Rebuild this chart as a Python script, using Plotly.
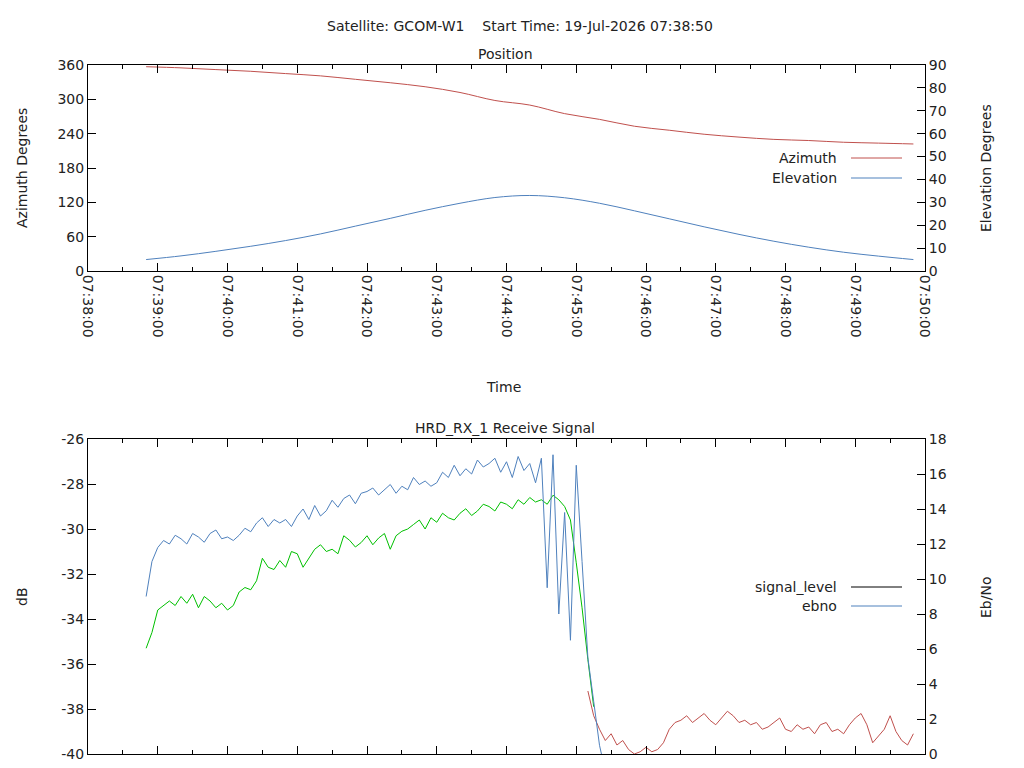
import pandas as pd
import plotly.graph_objects as go

# position pass, every 30 s from 07:38:50
pos_start = "2026-07-19 07:38:50"
azimuth = [357, 355, 352, 349, 345, 341, 335, 329, 322, 312, 298, 290, 275, 265, 253,
           246, 239, 234, 230, 228, 225, 223.5, 222]
elevation = [5.0, 6.6, 8.6, 10.8, 13.3, 16.2, 19.6, 23.0, 26.5, 29.6, 32.1, 33.0, 32.0, 29.6,
             26.3, 22.8, 19.3, 16.0, 13.0, 10.4, 8.2, 6.5, 5.0]

# receive signal, every 5 s
sig_start = "2026-07-19 07:38:50"
signal_locked = [-35.3, -34.6, -33.6, -33.4, -33.2, -33.4, -33.0, -33.3, -32.9, -33.5, -33.0, -33.2,
                 -33.5, -33.3, -33.6, -33.4, -32.8, -32.6, -32.7, -32.3, -31.3, -31.7, -31.8, -31.4,
                 -31.7, -31.0, -31.1, -31.7, -31.3, -30.9, -30.7, -31.0, -30.9, -31.1, -30.3, -30.5,
                 -30.8, -30.6, -30.3, -30.7, -30.4, -30.2, -30.9, -30.3, -30.1, -30.0, -29.8, -29.6,
                 -30.0, -29.5, -29.7, -29.3, -29.5, -29.6, -29.3, -29.1, -29.4, -29.2, -28.9, -29.0,
                 -29.2, -28.8, -28.9, -29.1, -28.7, -28.9, -28.6, -28.8, -28.7, -28.9, -28.5, -28.7,
                 -29.0, -29.6, -31.5, -33.5, -35.8, -37.9]
unlock_start = "2026-07-19 07:45:10"
signal_unlocked = [-37.2, -38.3, -38.9, -39.4, -39.1, -39.6, -39.4, -39.8, -40.0, -39.9, -39.7, -39.9,
                   -39.8, -39.5, -38.9, -38.6, -38.5, -38.3, -38.6, -38.4, -38.2, -38.5, -38.7, -38.4,
                   -38.1, -38.3, -38.6, -38.5, -38.7, -38.6, -38.9, -38.8, -38.6, -38.4, -38.9, -39.0,
                   -38.7, -38.9, -38.8, -39.1, -38.7, -38.6, -39.0, -38.9, -39.1, -38.7, -38.4, -38.2,
                   -38.7, -39.5, -39.2, -38.9, -38.3, -39.0, -39.4, -39.6, -39.1]
ebno = [9.0, 11.0, 11.8, 12.2, 12.0, 12.5, 12.3, 12.0, 12.6, 12.4, 12.1, 12.6, 12.8, 12.3, 12.4,
        12.2, 12.5, 12.9, 12.7, 13.2, 13.5, 13.0, 13.4, 13.2, 13.4, 13.0, 13.6, 14.0, 13.4, 14.2,
        13.6, 13.9, 14.5, 14.1, 14.6, 14.8, 14.3, 14.9, 15.0, 15.2, 14.8, 15.1, 15.4, 14.9, 15.3,
        15.1, 15.8, 15.4, 15.6, 15.3, 15.5, 16.1, 15.8, 16.5, 15.9, 16.3, 16.0, 16.8, 16.4, 16.6,
        16.9, 16.1, 16.7, 15.8, 17.0, 16.2, 16.6, 15.5, 16.9, 9.5, 17.1, 8.0, 13.8, 6.5, 16.5,
        11.0, 5.5, 3.0, 0.5, -1.0]
db_ticks = [-40, -38, -36, -34, -32, -30, -28, -26]

RED = "#c0504d"
BLUE = "#4f81bd"
GREEN = "#00c000"
FONT = dict(family="DejaVu Sans", size=14, color="#222")

t_pos = pd.date_range(pos_start, periods=len(azimuth), freq="30s")
t_el = pd.date_range(pos_start, periods=len(elevation), freq="30s")
t_lock = pd.date_range(sig_start, periods=len(signal_locked), freq="5s")
t_unlock = pd.date_range(unlock_start, periods=len(signal_unlocked), freq="5s")
t_ebno = pd.date_range(sig_start, periods=len(ebno), freq="5s")

fig = go.Figure()
fig.add_trace(go.Scatter(x=t_pos, y=azimuth, mode="lines", line=dict(color=RED, width=1, shape="spline"), xaxis="x", yaxis="y"))
fig.add_trace(go.Scatter(x=t_el, y=elevation, mode="lines", line=dict(color=BLUE, width=1, shape="spline"), xaxis="x", yaxis="y2"))
fig.add_trace(go.Scatter(x=t_ebno, y=ebno, mode="lines", line=dict(color=BLUE, width=1), xaxis="x2", yaxis="y4"))
fig.add_trace(go.Scatter(x=t_lock, y=signal_locked, mode="lines", line=dict(color=GREEN, width=1), xaxis="x2", yaxis="y3"))
fig.add_trace(go.Scatter(x=t_unlock, y=signal_unlocked, mode="lines", line=dict(color=RED, width=1), xaxis="x2", yaxis="y3"))

W, H = 1024, 768
xd = [80 / W, 917 / W]
top_d = [1 - 263 / H, 1 - 57 / H]
bot_d = [1 - 746 / H, 1 - 431 / H]
xr = ["2026-07-19 07:38:00", "2026-07-19 07:50:00"]
common = dict(showline=True, linecolor="black", linewidth=1, ticks="inside", ticklen=8,
              tickcolor="black", showgrid=False, zeroline=False, tickfont=FONT, automargin=False)
minor = dict(dtick=30000, ticks="inside", ticklen=4, tickcolor="black")

fig.update_layout(
    width=W, height=H, margin=dict(l=0, r=0, t=0, b=0),
    plot_bgcolor="white", paper_bgcolor="white", showlegend=False, font=FONT,
    xaxis=dict(common, domain=xd, anchor="y", range=xr, type="date", dtick=60000,
               tickformat="%H:%M:%S", tickangle=90, mirror="ticks", minor=minor),
    yaxis=dict(common, domain=top_d, anchor="x", range=[0, 360], dtick=60),
    yaxis2=dict(common, overlaying="y", side="right", anchor="x", range=[0, 90], dtick=10),
    xaxis2=dict(common, domain=xd, anchor="y3", range=xr, type="date", dtick=60000,
                showticklabels=False, mirror="ticks", minor=minor),
    yaxis3=dict(common, domain=bot_d, anchor="x2", range=[-40, -26], tickmode="array",
                tickvals=db_ticks, ticktext=[str(v) for v in db_ticks]),
    yaxis4=dict(common, overlaying="y3", side="right", anchor="x2", range=[0, 18], dtick=2),
)

def px(x, y):
    return x / W, 1 - y / H

ann = [
    ("Satellite: GCOM-W1    Start Time: 19-Jul-2026 07:38:50", 512, 18, 0),
    ("Position", 497, 46, 0),
    ("HRD_RX_1 Receive Signal", 497, 420, 0),
    ("Time", 495, 379, 0),
    ("Azimuth Degrees", 14, 160, -90),
    ("Elevation Degrees", 978, 160, -90),
    ("dB", 14, 589, -90),
    ("Eb/No", 978, 589, -90),
]
for text, x, y, ang in ann:
    ax, ay = px(x, y)
    fig.add_annotation(text=text.replace("    ", "&nbsp;&nbsp;&nbsp;&nbsp;"), x=ax, y=ay,
                       xref="paper", yref="paper", showarrow=False,
                       textangle=ang, font=FONT, xanchor="center", yanchor="middle")

# gnuplot-style key: label then line sample on the right
keys = [("Azimuth", RED, 150), ("Elevation", BLUE, 170),
        ("signal_level", "black", 579), ("ebno", BLUE, 598)]
for text, col, y in keys:
    ax, ay = px(831, y)
    fig.add_annotation(text=text, x=ax, y=ay, xref="paper", yref="paper", showarrow=False,
                       font=FONT, xanchor="right", yanchor="middle")
    x0, _ = px(843, y)
    x1, _ = px(894, y)
    fig.add_shape(type="line", xref="paper", yref="paper", x0=x0, x1=x1, y0=ay, y1=ay,
                  line=dict(color=col, width=1))

fig.write_html("out.html")
